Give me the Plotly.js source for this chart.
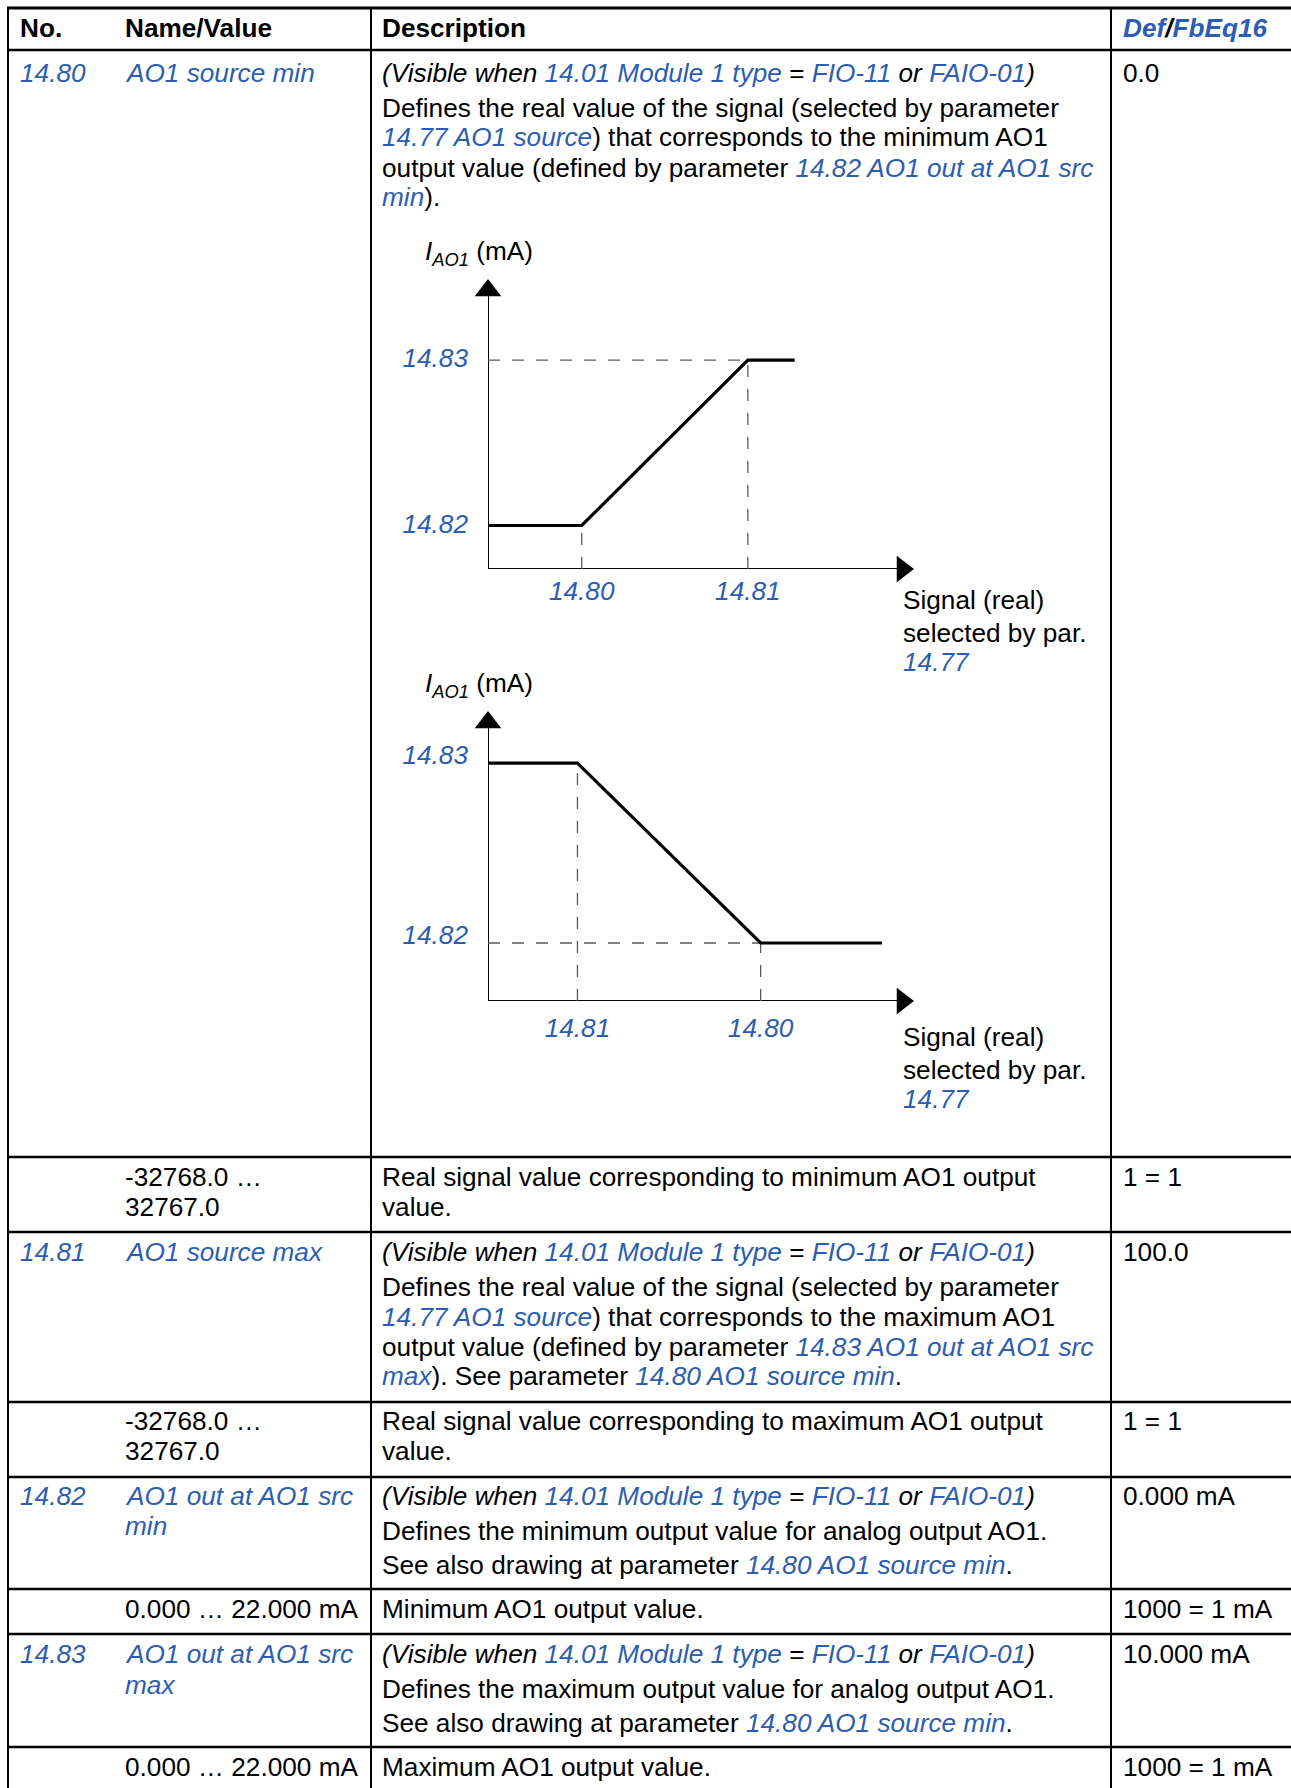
<!DOCTYPE html>
<html><head><meta charset="utf-8">
<script src="https://cdn.plot.ly/plotly-3.0.1.min.js"></script>
<style>html,body{margin:0;padding:0;background:#fff;} #chart{width:1291px;height:1788px;}</style>
</head><body><div id="chart"></div>
<script>
// ---------- content ----------
const headers = ['No.', 'Name/Value', 'Description', 'Def/FbEq16'];
const paramIds = ['14.80', '14.81', '14.82', '14.83'];
const paramNames = [['AO1 source min'], ['AO1 source max'], ['AO1 out at AO1 src', 'min'], ['AO1 out at AO1 src', 'max']];
const paramDefaults = ['0.0', '100.0', '0.000 mA', '10.000 mA'];
const visibleNote = '[(Visible when ]{14.01 Module 1 type} = {FIO-11} [or] {FAIO-01}[)]';
const paramDescs = [
  [visibleNote, 'Defines the real value of the signal (selected by parameter', '{14.77 AO1 source}) that corresponds to the minimum AO1', 'output value (defined by parameter {14.82 AO1 out at AO1 src}', '{min}).'],
  [visibleNote, 'Defines the real value of the signal (selected by parameter', '{14.77 AO1 source}) that corresponds to the maximum AO1', 'output value (defined by parameter {14.83 AO1 out at AO1 src}', '{max}). See parameter {14.80 AO1 source min}.'],
  [visibleNote, 'Defines the minimum output value for analog output AO1.', 'See also drawing at parameter {14.80 AO1 source min}.'],
  [visibleNote, 'Defines the maximum output value for analog output AO1.', 'See also drawing at parameter {14.80 AO1 source min}.']
];
const valueRanges = [['-32768.0 …', '32767.0'], ['-32768.0 …', '32767.0'], ['0.000 … 22.000 mA'], ['0.000 … 22.000 mA']];
const rangeDescs = [['Real signal value corresponding to minimum AO1 output', 'value.'], ['Real signal value corresponding to maximum AO1 output', 'value.'], ['Minimum AO1 output value.'], ['Maximum AO1 output value.']];
const rangeScales = ['1 = 1', '1 = 1', '1000 = 1 mA', '1000 = 1 mA'];

// diagram 1 (rising): schematic signal / current values
const fig1Signal = [0, 22, 61, 72];
const fig1Current = [15, 15, 72, 72];
const fig1XTicks = ['14.80', '14.81'];
// diagram 2 (falling)
const fig2Signal = [0, 21, 64, 92.5];
const fig2Current = [82, 82, 20, 20];
const fig2XTicks = ['14.81', '14.80'];
const yTickLabels = ['14.82', '14.83'];
const yAxisTitle = '<i>I</i><sub><i>AO1</i></sub> (mA)';
const xAxisTitle = ['Signal (real)', 'selected by par.', '{14.77}'];

// ---------- layout / style ----------
const W = 1291, H = 1788;
const BLUE = '#2c5db0';
const FONT = 'Liberation Sans, Arial, sans-serif';
const FS = 26.2;
const colX = [20, 125, 382, 1123];
const hLines = [8, 50, 1157, 1232, 1402, 1477, 1589, 1634, 1747];
const vLines = [8, 371, 1111];
const headerY = 28;
const paramNameY = [[73], [1252], [1496, 1526], [1654, 1685]];
const paramDescY = [[73, 108, 137, 168, 197], [1252, 1287, 1317, 1347, 1376], [1496, 1531, 1565], [1654, 1689, 1723]];
const rangeY = [[1177, 1207], [1421, 1451], [1609], [1767]];

function mark(s) {
  return s.replace(/\{([^}]*)\}/g, '<i><span style="color:' + BLUE + '">$1</span></i>')
          .replace(/\[([^\]]*)\]/g, '<i>$1</i>');
}
const px = v => v / W;
const py = v => 1 - v / H;
const annotations = [];
function txt(x, y, text, extra) {
  annotations.push(Object.assign({
    xref: 'paper', yref: 'paper', x: px(x - 2), y: py(y), text: mark(text),
    showarrow: false, xanchor: 'left', yanchor: 'middle', align: 'left',
    font: {family: FONT, size: FS, color: '#000'}
  }, extra || {}));
}

// header
txt(colX[0], headerY, '<b>' + headers[0] + '</b>');
txt(colX[1], headerY, '<b>' + headers[1] + '</b>');
txt(colX[2], headerY, '<b>' + headers[2] + '</b>');
const dh = headers[3].split('/');
txt(colX[3], headerY, '<b><i><span style="color:' + BLUE + '">' + dh[0] + '</span>/<span style="color:' + BLUE + '">' + dh[1] + '</span></i></b>');

for (let r = 0; r < 4; r++) {
  txt(colX[0], paramNameY[r][0], '{' + paramIds[r] + '}');
  paramNames[r].forEach((n, i) => txt(colX[1], paramNameY[r][i], '{' + n + '}'));
  paramDescs[r].forEach((d, i) => txt(colX[2], paramDescY[r][i], d));
  txt(colX[3], paramNameY[r][0], paramDefaults[r]);
  valueRanges[r].forEach((v, i) => txt(colX[1], rangeY[r][i], v));
  rangeDescs[r].forEach((v, i) => txt(colX[2], rangeY[r][i], v));
  txt(colX[3], rangeY[r][0], rangeScales[r]);
}

// diagram labels
const figTitleY = [253, 685];
const figSigY = [[600, 633, 662], [1037, 1070, 1099]];
[0, 1].forEach(k => {
  txt(425, figTitleY[k], yAxisTitle);
  xAxisTitle.forEach((t, i) => txt(903, figSigY[k][i], t));
});

// table lines
const shapes = [];
hLines.forEach((y, i) => shapes.push({type: 'line', xref: 'paper', yref: 'paper', x0: px(vLines[0] - 1), x1: 1, y0: py(y), y1: py(y),
  line: {color: '#000', width: i === 0 ? 3 : 2.6}}));
vLines.forEach(x => shapes.push({type: 'line', xref: 'paper', yref: 'paper', x0: px(x), x1: px(x), y0: py(hLines[0]), y1: 0,
  line: {color: '#000', width: 2}}));

// plot geometry (pixels)
const plotLeft = 488, plotRight = 914;
const fig1Bottom = 569, fig1Top = 279;
const fig2Bottom = 1001, fig2Top = 711;
const AX_MAX = 100;
const ARROW_SIZE = 23;             // marker size of axis arrowheads
const ARROW_R = ARROW_SIZE / 2;    // tip distance from marker centre

function refLines(s, c) {
  return {x: [0, s[2], null, s[1], s[1], null, s[2], s[2]],
          y: [c[2], c[2], null, 0, c[1], null, 0, c[2]]};
}
function axisTraces(xa, ya, bottom, top) {
  const ux = AX_MAX * ARROW_R / (plotRight - plotLeft);
  const uy = AX_MAX * ARROW_R / (bottom - top);
  return [
    {x: [AX_MAX - ux, 0, 0], y: [0, 0, AX_MAX - uy], xaxis: xa, yaxis: ya, mode: 'lines',
     line: {color: '#000', width: 2}, cliponaxis: false},
    {x: [AX_MAX - ux, 0], y: [0, AX_MAX - uy], xaxis: xa, yaxis: ya, mode: 'markers', cliponaxis: false,
     marker: {symbol: ['triangle-right', 'triangle-up'], size: ARROW_SIZE, color: '#000', line: {width: 0}}}
  ];
}
const dashStyle = {color: '#5a5a5a', width: 1.3, dash: '12px,12px'};
const r1 = refLines(fig1Signal, fig1Current);
const r2 = refLines(fig2Signal, fig2Current);
const traces = [
  ...axisTraces('x', 'y', fig1Bottom, fig1Top),
  {x: r1.x, y: r1.y, xaxis: 'x', yaxis: 'y', mode: 'lines', line: dashStyle, cliponaxis: false, connectgaps: false},
  {x: fig1Signal, y: fig1Current, xaxis: 'x', yaxis: 'y', mode: 'lines', line: {color: '#000', width: 3.2}, cliponaxis: false},
  ...axisTraces('x2', 'y2', fig2Bottom, fig2Top),
  {x: r2.x, y: r2.y, xaxis: 'x2', yaxis: 'y2', mode: 'lines', line: dashStyle, cliponaxis: false, connectgaps: false},
  {x: fig2Signal, y: fig2Current, xaxis: 'x2', yaxis: 'y2', mode: 'lines', line: {color: '#000', width: 3.2}, cliponaxis: false}
];

const xDom = [px(plotLeft), px(plotRight)];
const tickFont = {family: FONT, size: FS, color: BLUE, style: 'italic'};
function xAxis(anchor, s, labels, standoff) {
  return {domain: xDom, range: [0, AX_MAX], anchor: anchor, showgrid: false, zeroline: false, showline: false,
    tickmode: 'array', tickvals: [s[1], s[2]], ticktext: labels, ticks: '', tickfont: tickFont, fixedrange: true,
    ticklabelstandoff: standoff};
}
function yAxis(anchor, dom, c, shift) {
  const lo = Math.min(c[1], c[2]), hi = Math.max(c[1], c[2]);
  return {domain: dom, range: [0, AX_MAX], anchor: anchor, showgrid: false, zeroline: false, showline: false,
    tickmode: 'array', tickvals: [lo, hi], ticktext: yTickLabels, ticks: '', tickfont: tickFont, fixedrange: true,
    ticklabelstandoff: 19, ticklabelshift: shift};
}

const layout = {
  width: W, height: H, autosize: false,
  margin: {l: 0, r: 0, t: 0, b: 0, pad: 0},
  paper_bgcolor: '#fff', plot_bgcolor: 'rgba(0,0,0,0)',
  showlegend: false, hovermode: false, dragmode: false,
  font: {family: FONT, size: FS, color: '#000'},
  xaxis: xAxis('y', fig1Signal, fig1XTicks, 4),
  yaxis: yAxis('x', [py(fig1Bottom), py(fig1Top)], fig1Current, -2),
  xaxis2: xAxis('y2', fig2Signal, fig2XTicks, 9),
  yaxis2: yAxis('x2', [py(fig2Bottom), py(fig2Top)], fig2Current, -8),
  shapes: shapes,
  annotations: annotations
};
Plotly.newPlot('chart', traces, layout, {displayModeBar: false, staticPlot: true});
</script>
</body></html>
